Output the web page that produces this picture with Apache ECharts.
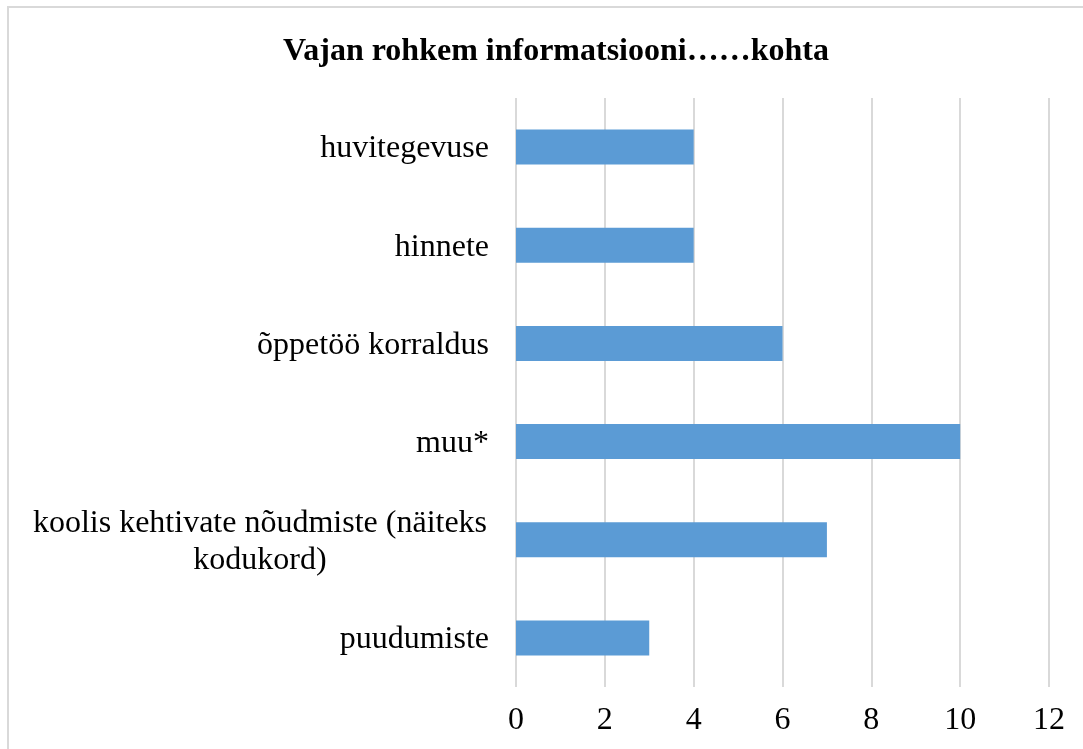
<!DOCTYPE html>
<html>
<head>
<meta charset="utf-8">
<script src="https://cdn.jsdelivr.net/npm/echarts@6/dist/echarts.min.js"></script>
<style>
  html, body { margin: 0; padding: 0; background: #fff; overflow: hidden; }
  #chart { width: 1083px; height: 749px; }
</style>
</head>
<body>
<div id="chart"></div>
<script>
// kategooriad ülalt alla
const categories = [
  'huvitegevuse',
  'hinnete',
  'õppetöö korraldus',
  'muu*',
  'koolis kehtivate nõudmiste (näiteks\nkodukord)',
  'puudumiste'
];
const values = [4, 4, 6, 10, 7, 3];
const xTicks = [0, 2, 4, 6, 8, 10, 12];

const chart = echarts.init(document.getElementById('chart'));
const font = '"Liberation Serif", "Times New Roman", serif';

chart.setOption({
  animation: false,
  backgroundColor: '#fff',
  title: {
    text: 'Vajan rohkem informatsiooni……kohta',
    left: 551,
    textAlign: 'center',
    top: 31,
    textStyle: { fontFamily: font, fontSize: 32, fontWeight: 'bold', color: '#000' }
  },
  graphic: [{
    type: 'rect',
    silent: true,
    shape: { x: 8, y: 7, width: 1100, height: 800 },
    style: { fill: 'none', stroke: '#d9d9d9', lineWidth: 2 }
  }],
  grid: { left: 516, right: 34, top: 98, bottom: 62 },
  xAxis: {
    type: 'value',
    min: xTicks[0],
    max: xTicks[xTicks.length - 1],
    interval: 2,
    axisLine: { show: false },
    axisTick: { show: false },
    splitLine: { show: true, lineStyle: { color: '#d9d9d9', width: 2 } },
    axisLabel: { margin: 18, fontFamily: font, fontSize: 32, color: '#000' }
  },
  yAxis: {
    type: 'category',
    inverse: true,
    data: categories,
    axisLine: { show: false },
    axisTick: { show: false },
    axisLabel: {
      margin: 27,
      fontFamily: font,
      fontSize: 32,
      color: '#000',
      lineHeight: 37,
      padding: [4, 0, 0, 0],
      formatter: function (v) {
        if (v.indexOf('\n') < 0) return v;
        return v.split('\n').map(function (s) { return '{c|' + s + '}'; }).join('\n');
      },
      rich: {
        c: { width: 458, align: 'center', fontFamily: font, fontSize: 32, color: '#000', lineHeight: 37 }
      }
    }
  },
  series: [{
    type: 'bar',
    data: values,
    barWidth: 35,
    itemStyle: { color: '#5b9bd5' }
  }]
});
</script>
</body>
</html>
